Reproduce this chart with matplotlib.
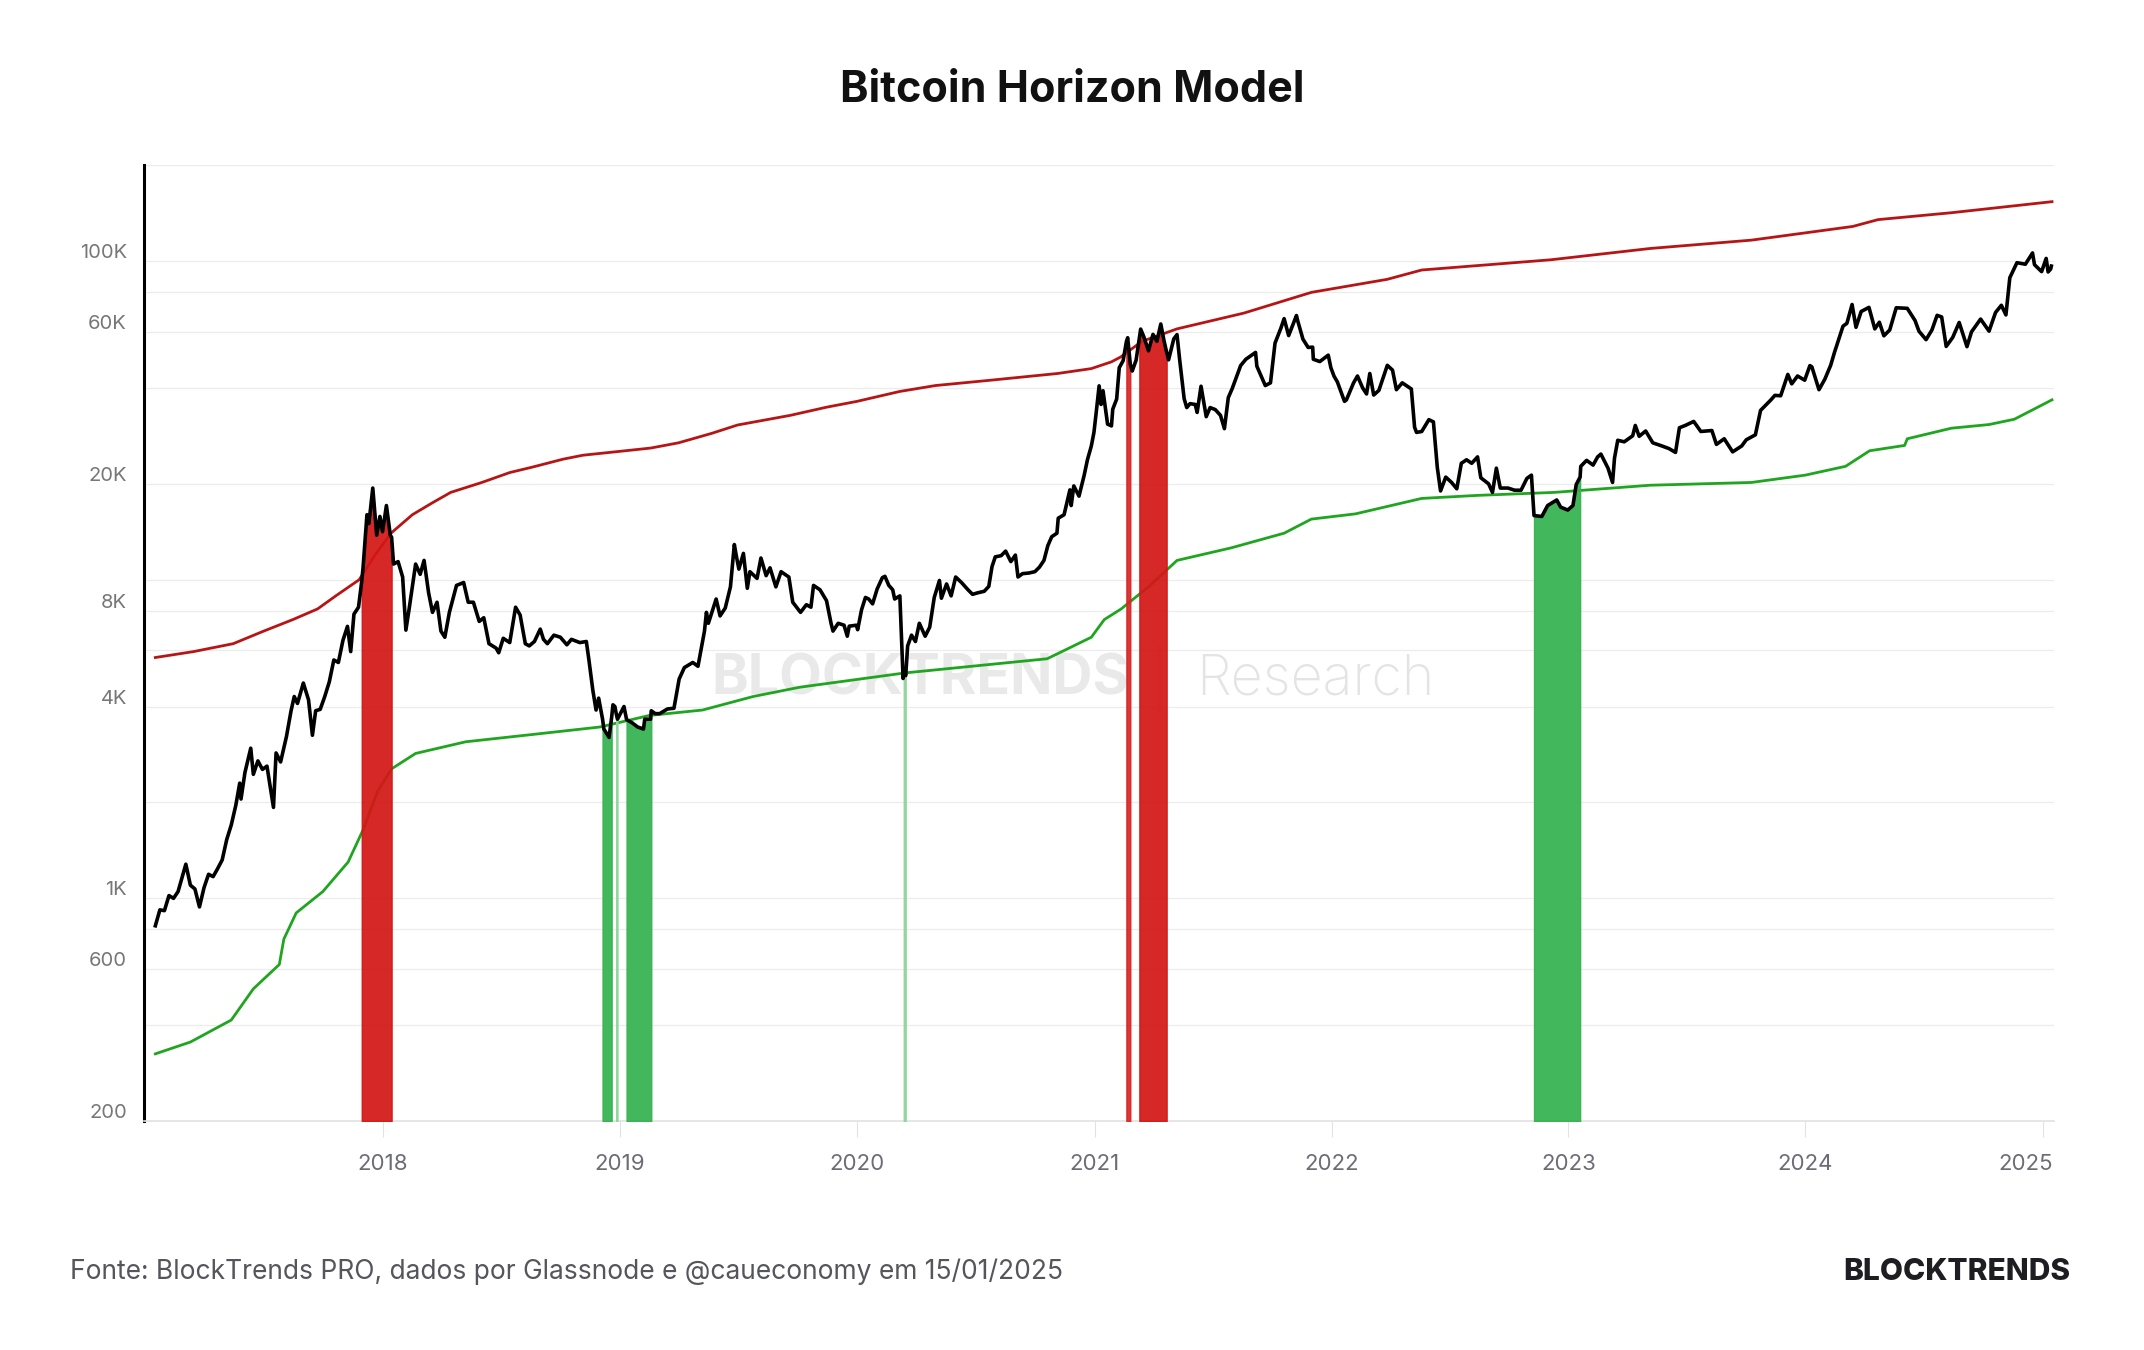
import numpy as np
import matplotlib
matplotlib.use("Agg")
import matplotlib.pyplot as plt
import matplotlib.transforms as mtransforms
from matplotlib.ticker import NullFormatter

plt.rcParams['font.family'] = ['Inter', 'DejaVu Sans']

# preço do BTC (data, USD)
btc_2017 = [("2017-01-15", 820), ("2017-01-22", 920), ("2017-01-29", 915), ("2017-02-05", 1020),
            ("2017-02-12", 1000), ("2017-02-19", 1050), ("2017-02-26", 1180), ("2017-03-03", 1280),
            ("2017-03-10", 1100), ("2017-03-17", 1070), ("2017-03-24", 940), ("2017-03-31", 1080),
            ("2017-04-07", 1190), ("2017-04-14", 1170), ("2017-04-21", 1240), ("2017-04-28", 1320),
            ("2017-05-05", 1530), ("2017-05-12", 1700), ("2017-05-19", 1960), ("2017-05-25", 2300),
            ("2017-05-27", 2050), ("2017-06-02", 2480), ("2017-06-11", 2960), ("2017-06-15", 2450),
            ("2017-06-22", 2700), ("2017-06-29", 2540), ("2017-07-06", 2600), ("2017-07-16", 1930),
            ("2017-07-20", 2860), ("2017-07-27", 2680), ("2017-08-05", 3220), ("2017-08-12", 3870),
            ("2017-08-17", 4300), ("2017-08-22", 4090), ("2017-08-31", 4740), ("2017-09-02", 4600),
            ("2017-09-08", 4200), ("2017-09-14", 3250), ("2017-09-19", 3880), ("2017-09-26", 3920),
            ("2017-10-03", 4300), ("2017-10-10", 4780), ("2017-10-17", 5600), ("2017-10-24", 5500),
            ("2017-10-31", 6450), ("2017-11-07", 7140), ("2017-11-12", 5950), ("2017-11-17", 7800),
            ("2017-11-24", 8200), ("2017-11-29", 9900), ("2017-12-01", 10900), ("2017-12-07", 16000),
            ("2017-12-10", 15000), ("2017-12-16", 19400), ("2017-12-22", 13800), ("2017-12-27", 15800),
            ("2017-12-31", 14150)]
btc_2018 = [("2018-01-06", 17100), ("2018-01-12", 13800), ("2018-01-14", 13600), ("2018-01-17", 11200),
            ("2018-01-24", 11400), ("2018-01-31", 10200), ("2018-02-05", 6950), ("2018-02-10", 8100),
            ("2018-02-20", 11200), ("2018-02-27", 10400), ("2018-03-05", 11500), ("2018-03-12", 9100),
            ("2018-03-18", 7900), ("2018-03-25", 8500), ("2018-03-31", 6900), ("2018-04-06", 6600),
            ("2018-04-13", 7900), ("2018-04-24", 9600), ("2018-05-05", 9800), ("2018-05-12", 8500),
            ("2018-05-20", 8500), ("2018-05-29", 7400), ("2018-06-05", 7600), ("2018-06-13", 6300),
            ("2018-06-24", 6100), ("2018-06-28", 5900), ("2018-07-05", 6550), ("2018-07-15", 6350),
            ("2018-07-24", 8200), ("2018-07-31", 7750), ("2018-08-08", 6300), ("2018-08-14", 6200),
            ("2018-08-22", 6400), ("2018-08-31", 7000), ("2018-09-05", 6500), ("2018-09-11", 6300),
            ("2018-09-21", 6700), ("2018-10-01", 6600), ("2018-10-11", 6250), ("2018-10-18", 6500),
            ("2018-10-31", 6350), ("2018-11-10", 6400), ("2018-11-14", 5600), ("2018-11-20", 4500),
            ("2018-11-25", 3900), ("2018-11-29", 4250), ("2018-12-05", 3650), ("2018-12-07", 3400),
            ("2018-12-15", 3200), ("2018-12-19", 3700), ("2018-12-21", 4050), ("2018-12-24", 4000),
            ("2018-12-26", 3800), ("2018-12-28", 3650), ("2018-12-31", 3750)]
btc_2019 = [("2019-01-07", 4000), ("2019-01-11", 3640), ("2019-01-20", 3550), ("2019-01-28", 3450),
            ("2019-02-06", 3400), ("2019-02-08", 3650), ("2019-02-17", 3650), ("2019-02-18", 3880),
            ("2019-02-24", 3800), ("2019-03-03", 3800), ("2019-03-15", 3930), ("2019-03-25", 3950),
            ("2019-04-02", 4880), ("2019-04-10", 5300), ("2019-04-23", 5500), ("2019-05-01", 5350),
            ("2019-05-11", 6900), ("2019-05-14", 7900), ("2019-05-17", 7300), ("2019-05-29", 8700),
            ("2019-06-04", 7700), ("2019-06-12", 8150), ("2019-06-20", 9500), ("2019-06-26", 12900),
            ("2019-06-29", 11900), ("2019-07-03", 10800), ("2019-07-10", 12100), ("2019-07-16", 9400),
            ("2019-07-20", 10600), ("2019-07-31", 10100), ("2019-08-06", 11700), ("2019-08-14", 10300),
            ("2019-08-20", 10900), ("2019-08-29", 9500), ("2019-09-06", 10600), ("2019-09-18", 10200),
            ("2019-09-24", 8500), ("2019-10-06", 7900), ("2019-10-15", 8350), ("2019-10-22", 8200),
            ("2019-10-26", 9600), ("2019-11-05", 9300), ("2019-11-15", 8600), ("2019-11-22", 7300),
            ("2019-11-25", 6900), ("2019-12-03", 7300), ("2019-12-12", 7200), ("2019-12-17", 6650),
            ("2019-12-20", 7150), ("2019-12-31", 7200)]
btc_2020 = [("2020-01-02", 6970), ("2020-01-08", 8050), ("2020-01-14", 8800), ("2020-01-19", 8700),
            ("2020-01-25", 8400), ("2020-02-01", 9350), ("2020-02-09", 10150), ("2020-02-13", 10250),
            ("2020-02-19", 9600), ("2020-02-25", 9300), ("2020-02-28", 8700), ("2020-03-07", 8900),
            ("2020-03-12", 4900), ("2020-03-13", 5200), ("2020-03-16", 5000), ("2020-03-19", 6200),
            ("2020-03-25", 6700), ("2020-03-31", 6400), ("2020-04-06", 7300), ("2020-04-15", 6650),
            ("2020-04-22", 7100), ("2020-04-29", 8800), ("2020-05-07", 9950), ("2020-05-10", 8750),
            ("2020-05-18", 9700), ("2020-05-25", 8900), ("2020-06-01", 10200), ("2020-06-10", 9800),
            ("2020-06-20", 9300), ("2020-06-27", 9000), ("2020-07-05", 9100), ("2020-07-15", 9200),
            ("2020-07-22", 9530), ("2020-07-27", 11000), ("2020-08-01", 11800), ("2020-08-10", 11900),
            ("2020-08-17", 12300), ("2020-08-25", 11400), ("2020-09-01", 11950), ("2020-09-05", 10200),
            ("2020-09-12", 10450), ("2020-09-22", 10500), ("2020-10-01", 10600), ("2020-10-08", 10950),
            ("2020-10-15", 11500), ("2020-10-21", 12800), ("2020-10-27", 13650), ("2020-11-04", 14000),
            ("2020-11-06", 15600), ("2020-11-15", 16000), ("2020-11-24", 19150), ("2020-11-26", 17100),
            ("2020-11-30", 19700), ("2020-12-08", 18300), ("2020-12-16", 21300), ("2020-12-21", 23800),
            ("2020-12-27", 26300), ("2020-12-31", 29000)]
btc_2021 = [("2021-01-03", 32800), ("2021-01-08", 40600), ("2021-01-11", 35500), ("2021-01-14", 39200),
            ("2021-01-21", 30800), ("2021-01-27", 30400), ("2021-01-29", 34300), ("2021-02-04", 36900),
            ("2021-02-08", 46300), ("2021-02-14", 48700), ("2021-02-19", 55900), ("2021-02-21", 57500),
            ("2021-02-25", 47500), ("2021-02-28", 45200), ("2021-03-06", 48900), ("2021-03-11", 57300),
            ("2021-03-13", 61200), ("2021-03-18", 57800), ("2021-03-25", 52300), ("2021-04-01", 58900),
            ("2021-04-07", 56000), ("2021-04-13", 63500), ("2021-04-18", 56200), ("2021-04-22", 51800),
            ("2021-04-25", 49000), ("2021-05-03", 57000), ("2021-05-08", 58800), ("2021-05-12", 49200),
            ("2021-05-19", 37000), ("2021-05-23", 34700), ("2021-05-28", 35700), ("2021-06-05", 35500),
            ("2021-06-08", 33500), ("2021-06-14", 40500), ("2021-06-22", 32500), ("2021-06-28", 34700),
            ("2021-07-06", 34200), ("2021-07-14", 32800), ("2021-07-20", 29800), ("2021-07-26", 37300),
            ("2021-08-01", 39800), ("2021-08-14", 47000), ("2021-08-22", 49200), ("2021-09-06", 51700),
            ("2021-09-08", 46800), ("2021-09-21", 40700), ("2021-09-29", 41500), ("2021-10-06", 55300),
            ("2021-10-15", 61600), ("2021-10-20", 66000), ("2021-10-27", 58400), ("2021-11-08", 67500),
            ("2021-11-10", 64900), ("2021-11-18", 56900), ("2021-11-26", 53600), ("2021-12-03", 53700),
            ("2021-12-04", 49200), ("2021-12-14", 48400), ("2021-12-27", 50700), ("2021-12-31", 46300)]
btc_2022 = [("2022-01-05", 43500), ("2022-01-10", 41800), ("2022-01-21", 36300), ("2022-01-24", 36700),
            ("2022-02-04", 41500), ("2022-02-10", 43600), ("2022-02-18", 40000), ("2022-02-24", 38300),
            ("2022-03-01", 44400), ("2022-03-07", 38000), ("2022-03-15", 39300), ("2022-03-28", 47100),
            ("2022-04-05", 45500), ("2022-04-11", 39500), ("2022-04-20", 41500), ("2022-05-04", 39700),
            ("2022-05-09", 30100), ("2022-05-12", 29000), ("2022-05-20", 29200), ("2022-05-31", 31800),
            ("2022-06-07", 31300), ("2022-06-13", 22500), ("2022-06-18", 19000), ("2022-06-26", 21000),
            ("2022-07-05", 20200), ("2022-07-13", 19300), ("2022-07-20", 23200), ("2022-07-28", 23800),
            ("2022-08-05", 23200), ("2022-08-14", 24300), ("2022-08-19", 20900), ("2022-08-31", 20000),
            ("2022-09-06", 18800), ("2022-09-12", 22400), ("2022-09-18", 19400), ("2022-09-30", 19400),
            ("2022-10-10", 19100), ("2022-10-20", 19100), ("2022-10-29", 20800), ("2022-11-05", 21300),
            ("2022-11-09", 15900), ("2022-11-21", 15800), ("2022-11-30", 17100), ("2022-12-14", 17800),
            ("2022-12-20", 16900), ("2022-12-31", 16550)]
btc_2023 = [("2023-01-08", 17100), ("2023-01-13", 19900), ("2023-01-19", 21000), ("2023-01-20", 22700),
            ("2023-01-29", 23700), ("2023-02-08", 22900), ("2023-02-15", 24300), ("2023-02-20", 24800),
            ("2023-03-03", 22400), ("2023-03-10", 20200), ("2023-03-13", 24100), ("2023-03-18", 27400),
            ("2023-03-28", 27100), ("2023-04-10", 28300), ("2023-04-14", 30500), ("2023-04-20", 28200),
            ("2023-04-30", 29300), ("2023-05-11", 26900), ("2023-05-25", 26300), ("2023-06-05", 25800),
            ("2023-06-15", 25100), ("2023-06-21", 30000), ("2023-06-30", 30500), ("2023-07-13", 31400),
            ("2023-07-24", 29200), ("2023-08-10", 29400), ("2023-08-17", 26600), ("2023-08-29", 27700),
            ("2023-09-11", 25200), ("2023-09-25", 26300), ("2023-10-02", 27500), ("2023-10-16", 28500),
            ("2023-10-24", 34000), ("2023-11-09", 36700), ("2023-11-15", 37900), ("2023-11-24", 37800),
            ("2023-12-05", 44100), ("2023-12-11", 41200), ("2023-12-20", 43600), ("2023-12-31", 42300)]
btc_2024 = [("2024-01-08", 47000), ("2024-01-11", 46600), ("2024-01-22", 39500), ("2024-01-31", 42600),
            ("2024-02-09", 47100), ("2024-02-15", 51800), ("2024-02-28", 62500), ("2024-03-05", 63800),
            ("2024-03-13", 73100), ("2024-03-19", 62000), ("2024-03-27", 69500), ("2024-04-08", 71600),
            ("2024-04-17", 61300), ("2024-04-24", 64300), ("2024-05-01", 58300), ("2024-05-10", 60800),
            ("2024-05-20", 71400), ("2024-06-06", 71100), ("2024-06-18", 65100), ("2024-06-24", 60300),
            ("2024-07-05", 56700), ("2024-07-14", 60800), ("2024-07-22", 67600), ("2024-07-29", 66800),
            ("2024-08-05", 54000), ("2024-08-15", 57600), ("2024-08-25", 64200), ("2024-09-06", 53900),
            ("2024-09-13", 60000), ("2024-09-27", 65800), ("2024-10-10", 60300), ("2024-10-20", 69000),
            ("2024-10-29", 72700), ("2024-11-05", 67800), ("2024-11-11", 88700), ("2024-11-22", 98900),
            ("2024-12-05", 97800), ("2024-12-16", 106100), ("2024-12-19", 97500), ("2024-12-30", 92700)]
btc_2025 = [("2025-01-06", 102000), ("2025-01-09", 92500), ("2025-01-13", 94500), ("2025-01-14", 96500)]

# banda superior (vermelha) e inferior (verde)
upper_band = [("2017-01-15", 5700), ("2017-03-15", 5950), ("2017-05-15", 6300), ("2017-07-01", 6900),
              ("2017-08-15", 7500), ("2017-09-22", 8100), ("2017-10-20", 8900), ("2017-11-25", 10000),
              ("2017-12-20", 12000), ("2018-01-13", 14000), ("2018-02-15", 16000), ("2018-03-17", 17400),
              ("2018-04-15", 18800), ("2018-06-02", 20200), ("2018-07-15", 21700), ("2018-08-20", 22600),
              ("2018-10-05", 23900), ("2018-11-05", 24600), ("2019-01-01", 25300), ("2019-02-17", 25900),
              ("2019-04-01", 26900), ("2019-05-22", 28800), ("2019-07-01", 30600), ("2019-09-20", 32800),
              ("2019-11-15", 34800), ("2020-01-01", 36300), ("2020-03-07", 39000), ("2020-05-01", 40700),
              ("2020-07-25", 42300), ("2020-11-05", 44400), ("2020-12-27", 46000), ("2021-01-27", 48300),
              ("2021-02-10", 50000), ("2021-03-15", 56000), ("2021-05-08", 61300), ("2021-08-19", 68700),
              ("2021-12-01", 79800), ("2022-03-28", 87700), ("2022-05-20", 93800), ("2022-12-05", 101000),
              ("2023-05-07", 109600), ("2023-10-10", 116400), ("2024-03-14", 128500), ("2024-04-22", 135000),
              ("2024-08-13", 141900), ("2025-01-15", 153700)]
lower_band = [("2017-01-15", 325), ("2017-03-10", 354), ("2017-05-12", 415), ("2017-06-15", 520),
              ("2017-07-25", 620), ("2017-08-01", 745), ("2017-08-20", 900), ("2017-09-30", 1050),
              ("2017-11-08", 1300), ("2017-12-01", 1640), ("2017-12-24", 2180), ("2018-01-14", 2550),
              ("2018-02-20", 2850), ("2018-05-08", 3100), ("2018-08-20", 3270), ("2018-12-01", 3450),
              ("2019-02-15", 3750), ("2019-05-08", 3900), ("2019-07-25", 4300), ("2019-10-05", 4600),
              ("2020-03-15", 5100), ("2020-10-20", 5650), ("2020-11-05", 5860), ("2020-12-27", 6600),
              ("2021-01-16", 7500), ("2021-02-11", 8100), ("2021-03-25", 9500), ("2021-05-08", 11500),
              ("2021-07-31", 12600), ("2021-10-20", 14000), ("2021-12-01", 15500), ("2022-02-07", 16100),
              ("2022-05-20", 18000), ("2022-08-14", 18400), ("2022-12-10", 18800), ("2023-05-07", 19800),
              ("2023-10-10", 20200), ("2024-01-01", 21300), ("2024-03-03", 22700), ("2024-04-09", 25400),
              ("2024-06-02", 26400), ("2024-06-06", 27700), ("2024-08-13", 29900), ("2024-10-10", 30700),
              ("2024-11-18", 31900), ("2025-01-15", 36700)]

# períodos fora das bandas
zone_start = ["2017-11-29", "2018-12-05", "2018-12-26", "2019-01-11", "2020-03-13",
              "2021-02-19", "2021-03-11", "2022-11-09"]
zone_end = ["2018-01-14", "2018-12-19", "2018-12-28", "2019-02-18", "2020-03-16",
            "2021-02-25", "2021-04-22", "2023-01-19"]
zone_color = ["#d41717", "#35b24f", "#8fd69c", "#35b24f", "#8fd69c",
              "#d82626", "#d41717", "#35b24f"]

years = [2018, 2019, 2020, 2021, 2022, 2023, 2024, 2025]
y_major = [200, 600, 1000, 4000, 8000, 20000, 60000, 100000]
y_major_labels = ["200", "600", "1K", "4K", "8K", "20K", "60K", "100K"]
y_minor = [400, 800, 2000, 6000, 10000, 40000, 80000, 200000]


def unpack(rows):
    d = np.array([np.datetime64(r[0]) for r in rows])
    v = np.array([r[1] for r in rows], dtype=float)
    return d, v


px_d, px_v = unpack(btc_2017 + btc_2018 + btc_2019 + btc_2020 + btc_2021 + btc_2022 + btc_2023 + btc_2024 + btc_2025)
up_d, up_v = unpack(upper_band)
lo_d, lo_v = unpack(lower_band)

fig = plt.figure(figsize=(21.44, 13.5), dpi=100)
ax = fig.add_axes([0.067, 0.1696, 0.891, 0.708])
ax.set_yscale('log')
ax.set_ylim(200, 200000)
ax.set_xlim(np.datetime64('2016-12-28'), np.datetime64('2025-01-18'))

# linhas do modelo
ax.plot(up_d, up_v, color='#b71515', lw=2.0, zorder=3)
ax.plot(lo_d, lo_v, color='#1fa51f', lw=2.0, zorder=3)

# zonas vermelhas / verdes
for s, e, c in zip(zone_start, zone_end, zone_color):
    mask = (px_d >= np.datetime64(s)) & (px_d <= np.datetime64(e))
    ax.fill_between(px_d, 200, px_v, where=mask, color=c, alpha=0.93, lw=1.0, zorder=4)

ax.plot(px_d, px_v, color='black', lw=2.6, zorder=5, solid_joinstyle='round')

# eixos
ax.set_yticks(y_major, y_major_labels)
ax.set_yticks(y_minor, minor=True)
ax.yaxis.set_minor_formatter(NullFormatter())
ax.grid(True, which='both', axis='y', color='#ececec', lw=0.9, zorder=0)
ax.tick_params(axis='y', which='both', length=0, pad=12, labelsize=14.5, labelcolor='#777777')
off_y = mtransforms.ScaledTranslation(0, 0.10, fig.dpi_scale_trans)
for lab in ax.get_yticklabels():
    lab.set_transform(lab.get_transform() + off_y)

ax.set_xticks([np.datetime64(f'{y}-01-01') for y in years], [str(y) for y in years])
ax.tick_params(axis='x', length=11.5, width=0.8, color='#e2e2e2', pad=12,
               labelsize=16, labelcolor='#6c6c76')
last = ax.get_xticklabels()[-1]
last.set_ha('right')
last.set_transform(last.get_transform() + mtransforms.ScaledTranslation(0.10, 0, fig.dpi_scale_trans))

for sp in ['top', 'right']:
    ax.spines[sp].set_visible(False)
ax.spines['left'].set_color('black')
ax.spines['left'].set_linewidth(2.2)
ax.spines['bottom'].set_color('#e2e2e2')
ax.spines['bottom'].set_linewidth(1.2)

# marca d'água
ax.text(0.3316, 0.497, 'BLOCKTRENDS', transform=fig.transFigure, fontsize=40, fontweight='bold',
        color='#e9e9e9', ha='left', va='center', zorder=1)
ax.text(0.541, 0.497, '|', transform=fig.transFigure, fontsize=40, color='#ececec',
        ha='center', va='center', zorder=1)
ax.text(0.558, 0.497, 'Research', transform=fig.transFigure, fontsize=40, fontweight='light',
        color='#e4e4e4', ha='left', va='center', zorder=1)

fig.text(0.5, 0.933, 'Bitcoin Horizon Model', ha='center', va='center',
         fontsize=31, fontweight='bold', color='#111111')
fig.text(0.0326, 0.058, 'Fonte: BlockTrends PRO, dados por Glassnode e @caueconomy em 15/01/2025',
         ha='left', va='center', fontsize=19, color='#55555c')
fig.text(0.9655, 0.058, 'BLOCKTRENDS', ha='right', va='center', fontsize=21.5,
         fontweight='heavy', color='#1d1d22')

fig.savefig('out.png', dpi=100)
